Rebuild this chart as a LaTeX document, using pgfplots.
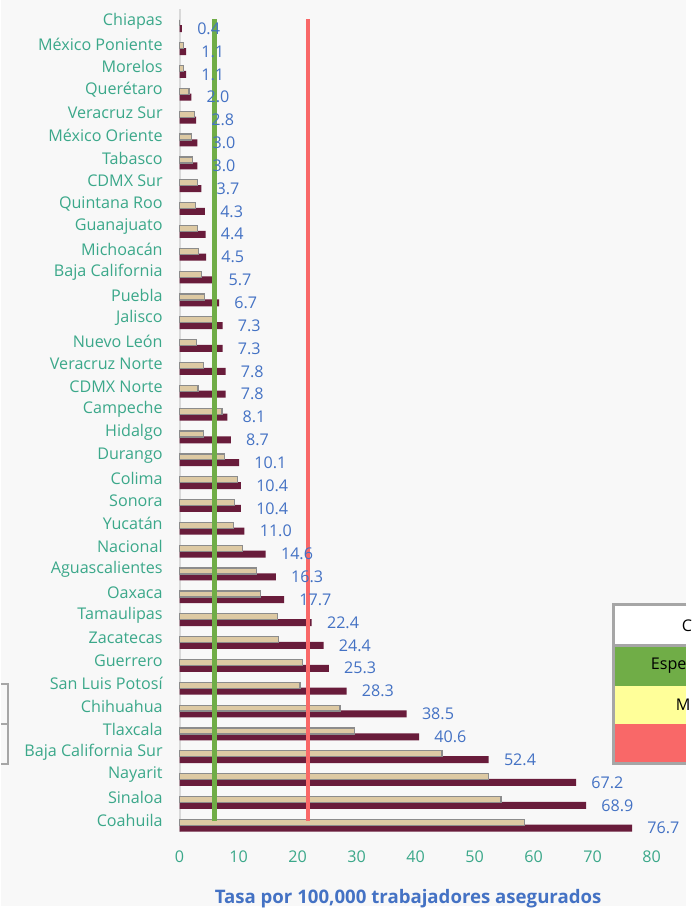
\documentclass[border=0pt]{standalone}
\usepackage{pgfplots}
\pgfplotsset{compat=1.18}
\usepackage{pgfplotstable}
\usepackage{fontspec}
\setmainfont{Open Sans}
\definecolor{bgc}{HTML}{F8F8F8}
\definecolor{tealt}{HTML}{3BA88A}
\definecolor{bluel}{HTML}{4472C4}
\definecolor{maroon}{HTML}{691C3B}
\definecolor{tan}{HTML}{DDC9A3}
\definecolor{tanb}{HTML}{8C8C8C}
\definecolor{axg}{HTML}{D9D9D9}
\definecolor{boxg}{HTML}{A6A6A6}
\definecolor{verde}{HTML}{70AD47}
\definecolor{rojo}{HTML}{F96868}
\definecolor{amar}{HTML}{FFFF99}

% y: 35 = Chiapas (arriba) ... 0 = Coahuila (abajo)
\pgfplotstableread{
y prev cur
35 0 0.4
34 0.7 1.1
33 0.7 1.1
32 1.6 2.0
31 2.5 2.8
30 2.0 3.0
29 2.2 3.0
28 3.0 3.7
27 2.7 4.3
26 3.0 4.4
25 3.2 4.5
24 3.7 5.7
23 4.2 6.7
22 5.6 7.3
21 2.9 7.3
20 4.1 7.8
19 3.1 7.8
18 7.2 8.1
17 4.1 8.7
16 7.6 10.1
15 9.8 10.4
14 9.3 10.4
13 9.2 11.0
12 10.7 14.6
11 13.0 16.3
10 13.7 17.7
9 16.6 22.4
8 16.8 24.4
7 20.8 25.3
6 20.4 28.3
5 27.2 38.5
4 29.7 40.6
3 44.5 52.4
2 52.3 67.2
1 54.5 68.9
0 58.5 76.7
}\datos

\begin{document}
\begin{tikzpicture}
\fill[bgc] (0pt,0pt) rectangle (412.2pt,-544.8pt);

\begin{axis}[
at={(107.4pt,-500.4pt)},anchor=south west,
scale only axis,width=283.8pt,height=495pt,
xmin=0,xmax=80,ymin=-0.3,ymax=35.74,
xbar,clip=false,
axis x line*=bottom,axis y line*=left,
x axis line style={draw=none},
y axis line style={-,draw=axg,line width=1.2pt},
major tick length=0pt,
xtick={0,10,...,80},
ytick={0,...,35},
yticklabels={Coahuila,Sinaloa,Nayarit,Baja California Sur,Tlaxcala,Chihuahua,San Luis Potosí,Guerrero,Zacatecas,Tamaulipas,Oaxaca,Aguascalientes,Nacional,Yucatán,Sonora,Colima,Durango,Hidalgo,Campeche,CDMX Norte,Veracruz Norte,Nuevo León,Jalisco,Puebla,Baja California,Michoacán,Guanajuato,Quintana Roo,CDMX Sur,Tabasco,México Oriente,Veracruz Sur,Querétaro,Morelos,México Poniente,Chiapas},
/pgf/number format/assume math mode=true,
yticklabel style={font=\fontsize{9.7}{11}\selectfont,text=tealt,inner sep=0pt,xshift=-10pt,yshift=2.8pt,anchor=east},
xticklabel style={font=\fontsize{9.7}{11}\selectfont,text=tealt,inner sep=0pt,yshift=-11pt},
]
\addplot[xbar,bar width=4.2pt,bar shift=-1.7pt,fill=maroon,draw=none,
  nodes near coords,point meta=x,
  nodes near coords style={anchor=west,font=\fontsize{9.7}{11}\selectfont,text=bluel,inner sep=0pt,xshift=9pt,
    /pgf/number format/.cd,fixed,fixed zerofill,precision=1,assume math mode=true}]
  table[x=cur,y=y]{\datos};
\addplot[xbar,bar width=3.6pt,bar shift=1.8pt,fill=tan,draw=tanb,line width=0.75pt]
  table[x=prev,y=y]{\datos};
\addplot[sharp plot,no marks,verde,line width=2.6pt] coordinates {(5.9,0.18) (5.9,35.3)};
\addplot[sharp plot,no marks,rojo,line width=2.2pt] coordinates {(21.8,0.18) (21.8,35.3)};
\end{axis}

\begin{scope}[x=0.6pt,y=-0.6pt]
% tabla derecha (parcial)
\fill[white] (614,606) rectangle (687,647);
\fill[verde] (614,647) rectangle (687,687);
\fill[amar] (614,687) rectangle (687,726);
\fill[rojo] (614,726) rectangle (687,765);
\draw[boxg,line width=1.5pt] (687,606) -- (614,606) -- (614,765) -- (687,765);
\draw[boxg,line width=1.5pt] (614,647) -- (687,647);
\node[anchor=west,inner sep=0pt,font=\fontsize{9.7}{11}\selectfont] at (682,627) {C};
\node[anchor=west,inner sep=0pt,font=\fontsize{9.7}{11}\selectfont] at (651,667) {Espe};
\node[anchor=west,inner sep=0pt,font=\fontsize{9.7}{11}\selectfont] at (676,706.5) {M};
% tabla izquierda (parcial)
\draw[boxg,line width=1.2pt] (0,685) -- (7.5,685) -- (7.5,766) -- (0,766);
\draw[boxg,line width=1.2pt] (0,725.5) -- (7.5,725.5);
% titulo eje
\node[anchor=north,inner sep=0pt,text=bluel,font=\bfseries\fontsize{11.2}{13}\selectfont] at (408,891) {Tasa por 100,000 trabajadores asegurados};
\end{scope}
\end{tikzpicture}
\end{document}
